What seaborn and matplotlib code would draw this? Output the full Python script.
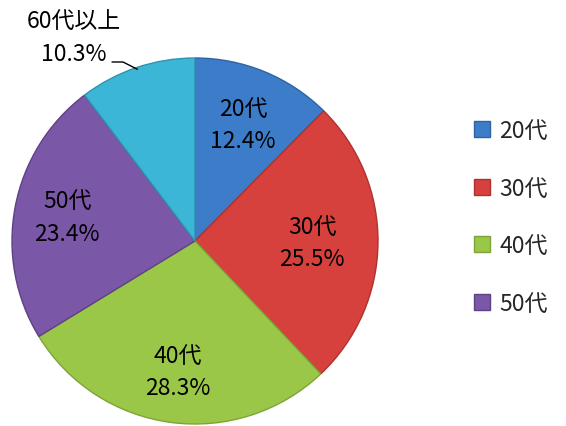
import matplotlib
matplotlib.use("Agg")
import matplotlib.pyplot as plt
import seaborn as sns
import numpy as np

# Age-group shares (%)
groups = ["20代", "30代", "40代", "50代", "60代以上"]
shares = [12.4, 25.5, 28.3, 23.4, 10.3]
colors = ["#3d7cc9", "#d6413d", "#9bc748", "#7b57a7", "#3cb6d7"]
edge_colors = ["#2f62a3", "#ad3330", "#7ea338", "#5f4186", "#2d93b0"]

sns.set_theme(style="white")
plt.rcParams["font.family"] = ["Noto Sans CJK JP", "DejaVu Sans"]

fig = plt.figure(figsize=(5.66, 4.27), dpi=100)
W, H = 566, 427
cx, cy, r = 195, 242, 183
ax = fig.add_axes([(cx - r) / W, (H - cy - r) / H, 2 * r / W, 2 * r / H])

wedges, _ = ax.pie(shares, colors=colors, startangle=90, counterclock=False,
                   radius=1.0, wedgeprops=dict(linewidth=1.0))
for w, ec in zip(wedges, edge_colors):
    w.set_edgecolor(ec)

ax.set_xlim(-1, 1)
ax.set_ylim(-1, 1)
ax.set_aspect("equal")
ax.axis("off")

fs = 16.5
label_radius = [0.69, 0.64, 0.72, 0.71]
for w, g, s, lr in zip(wedges[:4], groups[:4], shares[:4], label_radius):
    mid = np.deg2rad((w.theta1 + w.theta2) / 2)
    x, y = lr * np.cos(mid), lr * np.sin(mid)
    ax.text(x, y, f"{g}\n{s:.1f}%", ha="center", va="center",
            fontsize=fs, linespacing=1.52, color="black")

# outside label for the last slice with a leader line
w = wedges[4]
mid = np.deg2rad((w.theta1 + w.theta2) / 2)
ex, ey = np.cos(mid), np.sin(mid)
tx, ty = (74 - cx) / r, (cy - 38) / r
ax.text(tx, ty, f"{groups[4]}\n{shares[4]:.1f}%", ha="center", va="center",
        fontsize=fs, linespacing=1.52, color="black")
ax.plot([(112 - cx) / r, (123 - cx) / r, ex * 0.99],
        [(cy - 63) / r, (cy - 63) / r, ey * 0.99],
        color="black", linewidth=1.0, clip_on=False)

ax.legend(wedges[:4], groups[:4], loc="center left",
          bbox_to_anchor=(474 / W, 1 - 218 / H), bbox_transform=fig.transFigure,
          frameon=False, fontsize=fs, handlelength=0.7, handleheight=0.7,
          handletextpad=0.4, labelspacing=1.5, borderpad=0, borderaxespad=0)

fig.savefig("out.png", dpi=100)
